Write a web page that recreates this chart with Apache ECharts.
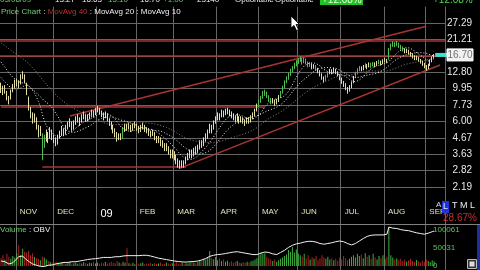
<!DOCTYPE html>
<html><head><meta charset="utf-8">
<script src="https://cdn.jsdelivr.net/npm/echarts@6/dist/echarts.min.js"></script>
<style>html,body{margin:0;padding:0;background:#000;}#c{width:480px;height:270px;}</style>
</head><body><div id="c"></div>
<script>
// ---- data ----
const monthNames = ['OCT','NOV','DEC','09','FEB','MAR','APR','MAY','JUN','JUL','AUG','SEP'];
const monthDays  = [8,19,22,20,19,22,21,20,22,22,21,5];
const priceTicks = ['2.19','2.82','3.63','4.67','6.00','7.73','9.95','12.80','16.47','21.21','27.29'];
const volTicks = [0, 50031, 100061];
// closes before the visible window (estimated from where the moving averages start)
const preCloses = [27,26.5,27.5,26,25.5,26,
 26,25,25.5,24.5,25,26,25.5,24,25,24.5,25,24,24.5,23.5,24,
 22,21,20,19.5,18.5,18,17,16.5,15.5,14,
 13.5,12.5,13,12,11.5,12,11,11.5,10.8];
const closes = [
 10.2,9.5,10.0,8.6,8.2,9.5,10.3,10.8,11.0,10.5,
 11.8,12.3,11.2,9.4,7.4,6.7,6.1,6.4,5.6,5.0,
 5.3,4.2,4.6,5.0,4.6,5.2,4.8,4.5,4.3,4.7,
 4.9,5.3,5.0,5.4,5.7,5.9,5.4,5.8,6.1,6.3,
 5.9,6.4,6.6,6.2,6.4,6.5,6.9,6.7,7.1,7.3,
 7.0,6.7,6.4,6.8,6.2,5.9,5.6,5.2,5.0,4.6,
 4.8,4.7,5.3,5.5,5.4,5.6,5.3,5.5,5.7,5.4,
 5.2,5.5,5.6,5.3,5.2,5.0,4.9,5.1,4.7,4.5,
 4.6,4.3,4.2,4.0,4.1,3.8,3.6,3.7,3.5,3.3,
 3.1,3.0,3.2,3.1,3.4,3.6,3.7,3.6,3.9,3.8,
 4.0,4.3,4.2,4.5,4.7,5.1,5.5,5.3,5.9,6.2,
 6.6,6.4,6.9,6.7,7.0,7.1,6.8,6.6,6.4,6.2,
 6.5,6.0,6.3,6.1,5.9,6.2,6.0,6.4,6.6,7.0,
 7.6,8.1,8.6,9.2,9.4,8.9,8.4,8.1,8.3,7.9,
 8.2,8.7,9.3,10.1,10.9,11.6,12.2,13.0,13.6,14.2,
 14.8,15.3,15.7,14.9,15.5,15.0,14.2,14.6,13.8,14.1,
 13.5,13.0,12.4,11.8,11.2,12.0,12.6,13.1,12.8,13.3,
 12.9,12.3,11.6,11.0,10.6,10.0,9.6,10.2,10.8,11.8,
 12.6,13.2,13.7,13.4,13.9,14.3,13.8,14.5,14.1,14.6,
 14.2,14.8,15.0,14.6,15.2,15.4,15.1,18.0,19.2,19.8,
 19.4,20.0,19.1,18.6,18.2,17.6,17.9,17.2,16.8,16.3,
 15.8,16.1,15.4,15.0,14.6,14.0,13.6,14.2,15.2,15.8,
 16.70];
const lows = [
 9.3,9.0,9.2,8.3,7.8,8.4,9.4,10.0,10.3,10.0,
 10.6,11.5,10.8,9.0,7.1,6.3,5.8,5.9,5.3,4.7,
 4.8,3.3,4.0,4.4,4.3,4.6,4.5,4.3,4.1,4.2,
 4.6,4.8,4.8,4.9,5.3,5.5,5.2,5.3,5.7,5.9,
 5.6,5.9,6.2,6.0,6.0,6.2,6.4,6.4,6.6,6.9,
 6.7,6.4,6.1,6.3,6.0,5.6,5.3,5.0,4.7,4.4,
 4.5,4.5,4.6,5.1,5.2,5.3,5.1,5.2,5.4,5.2,
 5.0,5.1,5.3,5.1,5.0,4.8,4.7,4.8,4.5,4.3,
 4.3,4.1,4.0,3.8,3.8,3.6,3.4,3.4,3.3,3.1,
 2.95,2.9,2.95,2.95,3.1,3.3,3.4,3.4,3.5,3.6,
 3.7,3.9,4.0,4.1,4.4,4.6,5.0,5.0,5.3,5.8,
 6.1,6.1,6.4,6.4,6.6,6.7,6.5,6.3,6.1,5.9,
 6.0,5.8,5.9,5.8,5.6,5.8,5.8,5.9,6.2,6.5,
 7.0,7.5,8.0,8.5,8.9,8.6,8.1,7.8,7.9,7.6,
 7.8,8.1,8.6,9.2,10.0,10.8,11.4,12.1,12.8,13.4,
 14.0,14.5,15.0,14.4,14.7,14.5,13.8,13.9,13.4,13.5,
 13.1,12.6,12.0,11.4,10.9,11.2,11.8,12.4,12.4,12.6,
 12.5,12.0,11.3,10.7,10.2,9.7,9.2,9.5,10.0,10.8,
 11.7,12.4,13.0,13.0,13.2,13.7,13.4,13.8,13.7,14.0,
 13.8,14.1,14.5,14.2,14.5,14.9,14.7,15.5,17.9,18.9,
 18.8,19.1,18.6,18.1,17.6,17.1,17.2,16.8,16.3,15.8,
 15.4,15.4,15.0,14.6,14.1,13.6,13.1,13.4,14.1,15.0,
 15.6];
const highs = [
 10.9,10.4,10.5,9.6,8.9,9.8,10.7,11.4,11.6,11.3,
 12.4,13.0,12.4,10.9,8.8,7.5,6.9,6.8,6.4,5.7,
 5.6,5.0,4.9,5.3,5.1,5.5,5.3,4.9,4.7,4.9,
 5.2,5.6,5.4,5.7,6.0,6.3,6.0,6.1,6.5,6.7,
 6.4,6.7,7.0,6.7,6.7,6.9,7.2,7.1,7.4,7.6,
 7.4,7.1,6.9,7.0,6.8,6.3,6.0,5.7,5.4,5.1,
 5.0,5.0,5.5,5.8,5.8,5.9,5.7,5.8,6.0,5.8,
 5.6,5.7,5.9,5.7,5.5,5.4,5.2,5.3,5.1,4.8,
 4.8,4.7,4.5,4.3,4.3,4.1,3.9,3.9,3.8,3.6,
 3.4,3.3,3.3,3.3,3.5,3.7,3.9,3.9,4.0,4.1,
 4.2,4.5,4.5,4.7,5.0,5.3,5.8,5.7,6.1,6.5,
 6.9,6.8,7.2,7.1,7.3,7.4,7.2,7.0,6.8,6.6,
 6.8,6.5,6.5,6.4,6.2,6.4,6.4,6.6,6.9,7.3,
 7.9,8.4,8.9,9.6,9.8,9.5,9.0,8.6,8.6,8.4,
 8.5,9.0,9.6,10.4,11.3,12.0,12.7,13.5,14.1,14.8,
 15.4,15.9,16.3,15.9,16.0,15.8,15.1,15.0,14.7,14.5,
 14.3,13.7,13.2,12.6,12.0,12.3,12.9,13.5,13.4,13.7,
 13.5,13.0,12.4,11.8,11.2,10.8,10.2,10.5,11.1,12.1,
 12.9,13.6,14.1,14.0,14.3,14.7,14.5,14.9,14.8,15.0,
 14.9,15.2,15.5,15.3,15.6,15.9,15.7,18.6,19.9,20.6,
 20.3,20.7,20.2,19.5,19.0,18.5,18.4,18.1,17.5,17.1,
 16.6,16.5,16.2,15.7,15.3,14.8,14.3,14.6,15.6,16.3,
 16.9];
const volumes = [
 22000,30000,18000,34000,26000,20000,28000,24000,
 36000,58000,31000,48000,40000,
 38000,42000,30000,35000,25000,
 22000,20000,16000,26000,24000,18000,14000,12000,
 10000,8000,12000,9000,7000,11000,8000,6000,9000,12000,7000,8000,10000,6000,9000,7000,11000,8000,6000,9000,
 8000,12000,7000,10000,6000,9000,8000,11000,7000,10000,12000,9000,8000,14000,10000,7000,12000,9000,
 50000,
 8000,6000,9000,5000,7000,6000,8000,10000,5000,7000,6000,9000,5000,8000,6000,7000,10000,5000,6000,9000,
 7000,5000,8000,6000,11000,7000,5000,9000,6000,8000,7000,10000,12000,9000,8000,11000,14000,
 16000,20000,18000,24000,42000,22000,19000,25000,
 16000,21000,14000,18000,12000,15000,10000,13000,9000,12000,14000,10000,8000,11000,9000,12000,10000,13000,15000,18000,22000,
 30000,38000,34000,36000,26000,22000,18000,
 14000,18000,12000,16000,20000,24000,28000,32000,
 45000,40000,53000,38000,46000,35000,30000,
 26000,34000,22000,30000,18000,25000,20000,28000,16000,22000,30000,24000,20000,26000,18000,22000,
 16000,20000,14000,24000,18000,28000,22000,16000,20000,26000,30000,24000,34000,28000,32000,
 22000,36000,26000,30000,20000,34000,24000,18000,28000,22000,30000,20000,26000,
 108000,
 30000,24000,18000,22000,16000,20000,14000,18000,12000,16000,20000,14000,11000,17000,13000,10000,15000,12000,18000,14000,11000,16000,13000];
const obv = [
 14000,10000,12000,7000,5600,8000,
 9000,14000,20000,26000,31000,28000,22000,
 17000,13000,9000,6000,4000,2000,500,-1000,-2500,-1500,
 0,2000,4000,3000,5000,6000,7000,8000,
 9000,10000,11000,10000,11000,12000,11000,12000,
 13000,14000,15000,16000,17000,18000,19000,19500,20000,20500,
 21000,22000,23000,24000,25000,24000,25000,
 24000,25000,26000,25000,26000,27000,28000,27000,29000,28000,29000,28000,29000,30000,29000,30000,30000,31000,
 30000,29000,28000,27000,25000,24000,22000,21000,20000,19000,18000,17000,16000,15000,14000,
 13000,12500,12000,11500,11000,11000,11500,12000,12000,12500,13000,14000,15000,
 17000,19000,21000,24000,27000,29000,30000,
 31000,32000,33000,33000,34000,35000,36000,37000,38000,39000,39000,40000,39000,38000,37000,36000,35000,34000,
 33000,32000,31000,32000,34000,36000,38000,39000,40000,38000,36000,
 34000,33000,32000,35000,38000,41000,44000,47000,
 52000,55000,58000,60000,62000,63000,64000,
 66000,67000,68000,69000,70000,69000,68000,67000,
 65000,63000,62000,61000,62000,63000,64000,65000,
 67000,68000,69000,70000,69000,68000,67000,
 63000,60000,59000,61000,63000,
 66000,70000,74000,77000,80000,83000,85000,86000,
 86000,87000,86000,87000,88000,87000,88000,89000,
 109000,
 107000,106000,104000,105000,103000,102000,101000,100000,101000,99000,98000,
 96000,94000,93000,92000,91000,90000,89000,90000,
 92000,94000,96000,98000];
// bar indices drawn green (accumulation) in the reference
const accumulationRanges = [[21,22],[62,62],[131,137],[142,157],[160,160],[165,166],[180,182],[185,185],[188,189],[192,192],[197,204]];
// drawn trend lines: full-width levels (price) and segments [[barIndex, price],[barIndex, price]]
const levelLines = [16.45, 20.6];
const trendSegments = [
 [[0,7.49],[134,7.49]],
 [[21,2.98],[94,2.98]],
 [[35,6.52],[216,26.0]],
 [[91,2.93],[223,14.3]]
];
const lastPrice = 16.70;
const padBars = 5;

// ---- build ----
const FONT = '"Liberation Sans", Arial, sans-serif';
const GRID = '#666666';
const base = parseFloat(priceTicks[0]);
const step = Math.log(parseFloat(priceTicks[priceTicks.length-1]) / base) / (priceTicks.length - 1);
const K = p => Math.log(p / base) / step;
const hiddenTick = Math.round(K(lastPrice));

const categories = []; const monthStart = {};
monthNames.forEach((m, mi) => {
  for (let d = 0; d < monthDays[mi]; d++) { if (d === 0) monthStart[categories.length] = m; categories.push(m + '-' + (d + 1)); }
});
for (let i = 0; i < padBars; i++) categories.push('pad' + i);
const isMonthLine = idx => monthStart[idx] !== undefined && idx !== 0;

const isAccum = i => accumulationRanges.some(r => i >= r[0] && i <= r[1]);
const CREAM = '#e4e0a4', GREEN = '#4fbf4f';
const candleData = closes.map((c, i) => {
  const col = isAccum(i) ? GREEN : CREAM;
  return { value: [K(c), K(c), K(lows[i]), K(highs[i])], itemStyle: { color: col, color0: col, borderColor: col, borderColor0: col } };
});
const full = preCloses.concat(closes);
function ma(n) {
  return closes.map((_, i) => { const e = i + preCloses.length; let s = 0; for (let j = e - n + 1; j <= e; j++) s += full[j]; return K(s / n); });
}
const volData = volumes.map((v, i) => {
  const prev = i > 0 ? closes[i - 1] : preCloses[preCloses.length - 1];
  return { value: v, itemStyle: { color: closes[i] >= prev ? '#3fae3f' : '#a82424' } };
});
const markData = levelLines.map(p => ({ yAxis: K(p) }))
  .concat(trendSegments.map(s => [{ coord: [s[0][0], K(s[0][1])] }, { coord: [s[1][0], K(s[1][1])] }]));

const chart = echarts.init(document.getElementById('c'), null, { renderer: 'canvas' });
const option = {
  backgroundColor: '#000', animation: false,
  grid: [
    { left: 0, top: 6.6, width: 445, height: 196.8 },
    { left: 0, top: 203.4, width: 445, height: 66.6 },
    { left: 0, top: 226, width: 445, height: 40 }
  ],
  xAxis: [
    { type: 'category', gridIndex: 0, data: categories, boundaryGap: true,
      axisLine: { show: false }, axisTick: { show: false },
      axisLabel: { interval: (i) => isMonthLine(i), align: 'left', margin: 4, padding: [0, 0, 0, 3],
        formatter: (v, i) => { const m = monthStart[i]; if (!m) return ''; return m === '09' ? '{big|09}' : '{m|' + m + '}'; },
        rich: { m: { color: '#e4e4bc', fontSize: 8, fontFamily: FONT }, big: { color: '#ffffff', fontSize: 11, fontFamily: FONT, padding: [1, 0, 0, 0] } } },
      splitLine: { show: true, interval: (i) => isMonthLine(i), lineStyle: { color: GRID, width: 1 } } },
    { type: 'category', gridIndex: 1, data: categories, boundaryGap: true,
      axisLine: { show: false }, axisTick: { show: false }, axisLabel: { show: false },
      splitLine: { show: true, interval: (i) => isMonthLine(i), lineStyle: { color: GRID, width: 1 } } },
    { type: 'category', gridIndex: 2, data: categories, boundaryGap: true,
      axisLine: { show: false }, axisTick: { show: false }, axisLabel: { show: false }, splitLine: { show: false } }
  ],
  yAxis: [
    { type: 'value', gridIndex: 0, position: 'right', min: -1, max: 11, interval: 1,
      axisLine: { show: false }, axisTick: { show: false },
      axisLabel: { color: '#e8e8e8', fontSize: 10, fontFamily: FONT, align: 'right', margin: 27,
        formatter: v => { const k = Math.round(v); return (k >= 0 && k < priceTicks.length && k !== hiddenTick) ? priceTicks[k] : ''; } },
      splitLine: { show: true, showMinLine: false, showMaxLine: false, lineStyle: { color: GRID, width: 1 } } },
    { type: 'value', gridIndex: 1, show: false, min: 0, max: 1, splitLine: { show: false } },
    { type: 'value', gridIndex: 2, position: 'right', min: 0, max: 112000, interval: 50030.5,
      axisLine: { show: false }, axisTick: { show: false }, splitLine: { show: false },
      axisLabel: { color: '#5cc45c', fontSize: 8, fontFamily: FONT, align: 'left', margin: -12, showMaxLabel: false,
        formatter: v => volTicks.includes(Math.round(v)) ? String(Math.round(v)) : '' } }
  ],
  series: [
    { type: 'candlestick', xAxisIndex: 0, yAxisIndex: 0, data: candleData, barWidth: 1.2, z: 3,
      markLine: { silent: true, symbol: ['none', 'none'], label: { show: false }, z: 2,
        lineStyle: { color: '#b03636', width: 1.5, type: 'solid', opacity: 0.95 }, emphasis: { disabled: true }, data: markData } },
    { type: 'line', name: 'MovAvg 40', xAxisIndex: 0, yAxisIndex: 0, data: ma(40), showSymbol: false, z: 4,
      lineStyle: { color: '#a07a7a', width: 1, type: [1, 2] } },
    { type: 'line', name: 'MovAvg 20', xAxisIndex: 0, yAxisIndex: 0, data: ma(20), showSymbol: false, z: 4,
      lineStyle: { color: '#f0f0f0', width: 1, type: [1, 2] } },
    { type: 'line', name: 'MovAvg 10', xAxisIndex: 0, yAxisIndex: 0, data: ma(10), showSymbol: false, z: 4,
      lineStyle: { color: '#f0f0f0', width: 1, type: [1, 2] } },
    { type: 'bar', name: 'Volume', xAxisIndex: 2, yAxisIndex: 2, data: volData, barWidth: 1, z: 2 },
    { type: 'line', name: 'OBV', xAxisIndex: 2, yAxisIndex: 2, data: obv, showSymbol: false, clip: false, z: 5,
      lineStyle: { color: '#f2f2f2', width: 1 } }
  ]
};
chart.setOption(option);

function T(x, y, text, fill, size, extra) {
  return { type: 'text', x: x, y: y, silent: true, z: 50,
    style: Object.assign({ text: text, fill: fill, font: size + 'px ' + FONT,
      align: 'left', verticalAlign: 'middle', textAlign: 'left', textVerticalAlign: 'middle' }, extra || {}) };
}
const W = '#f0f0f0', G = '#6fcf6f';
const p = chart.convertToPixel({ xAxisIndex: 0, yAxisIndex: 0 }, [closes.length - 1, K(lastPrice)]);
const graphics = [
  T(0, 0, '03/08/09', G, 8), T(55, 0, '13.27', W, 8), T(82, 0, '16.63', W, 8), T(108, 0, '15.10', G, 8),
  T(140, 0, '16.70', W, 8), T(163, 0, '+1.00', G, 8), T(197, 0, '23140', W, 8),
  T(235, 0, 'Optionable', W, 8), T(275, 0, 'Optionable', W, 8),
  { type: 'rect', z: 49, silent: true, shape: { x: 320, y: -4, width: 43, height: 9 }, style: { fill: '#22c322' } },
  T(322, 0, '+12.08%', '#e6ffe6', 10), T(433, 0, '+12.08%', '#4fdc4f', 10),
  { type: 'text', x: 1, y: 11.5, silent: true, z: 50, style: {
      text: '{g|Price Chart} : {r|MovAvg 40} : MovAvg 20 : MovAvg 10', fill: W, font: '8px ' + FONT,
      align: 'left', verticalAlign: 'middle', textAlign: 'left', textVerticalAlign: 'middle',
      rich: { g: { fill: G, color: G, font: '8px ' + FONT }, r: { fill: '#b83232', color: '#b83232', font: '8px ' + FONT } } } },
  { type: 'text', x: 0, y: 230, silent: true, z: 50, style: {
      text: '{g|Volume} : OBV', fill: W, font: '8px ' + FONT,
      align: 'left', verticalAlign: 'middle', textAlign: 'left', textVerticalAlign: 'middle',
      rich: { g: { fill: G, color: G, font: '8px ' + FONT } } } },
  { type: 'line', z: 40, silent: true, shape: { x1: 0, y1: 224.5, x2: 480, y2: 224.5 }, style: { stroke: '#808080', lineWidth: 1 } },
  T(436, 205, 'A', '#dddddd', 8),
  { type: 'rect', z: 49, silent: true, shape: { x: 442, y: 201, width: 7, height: 12 }, style: { fill: '#2233d8' } },
  T(443, 207, 'L', '#d8e4ff', 9), T(452, 206, 'T M L', '#eeeeee', 9),
  T(443, 218, '28.67%', '#c83030', 10),
  { type: 'rect', z: 49, silent: true, shape: { x: 477, y: 225, width: 3, height: 45 }, style: { fill: '#1a2fa0' } },
  { type: 'rect', z: 49, silent: true, shape: { x: 467.5, y: 259.5, width: 9, height: 9 }, style: { fill: '#333', stroke: '#bbb', lineWidth: 1 } },
  { type: 'rect', z: 50, silent: true, shape: { x: 469.5, y: 261.5, width: 5, height: 5 }, style: { fill: '#ddd' } },
  { type: 'polygon', z: 60, silent: true, shape: { points: [[291, 16], [291, 28], [294, 25.5], [296.5, 30.5], [298.5, 29.5], [296, 24.5], [299.5, 24.5]] },
    style: { fill: '#ffffff', stroke: '#000000', lineWidth: 0.8 } },
  { type: 'rect', z: 48, silent: true, shape: { x: p[0] + 1, y: p[1] - 2, width: 447 - p[0] - 1, height: 4 }, style: { fill: '#3fe0d0' } },
  { type: 'rect', z: 49, silent: true, shape: { x: 447, y: p[1] - 6, width: 26, height: 12 }, style: { fill: '#f2f2f2', stroke: '#ffffff', lineWidth: 1 } },
  { type: 'text', x: 460, y: p[1], silent: true, z: 50, style: { text: lastPrice.toFixed(2), fill: '#707070', font: '10px ' + FONT,
      align: 'center', verticalAlign: 'middle', textAlign: 'center', textVerticalAlign: 'middle' } }
];
chart.setOption({ graphic: graphics });
</script></body></html>
